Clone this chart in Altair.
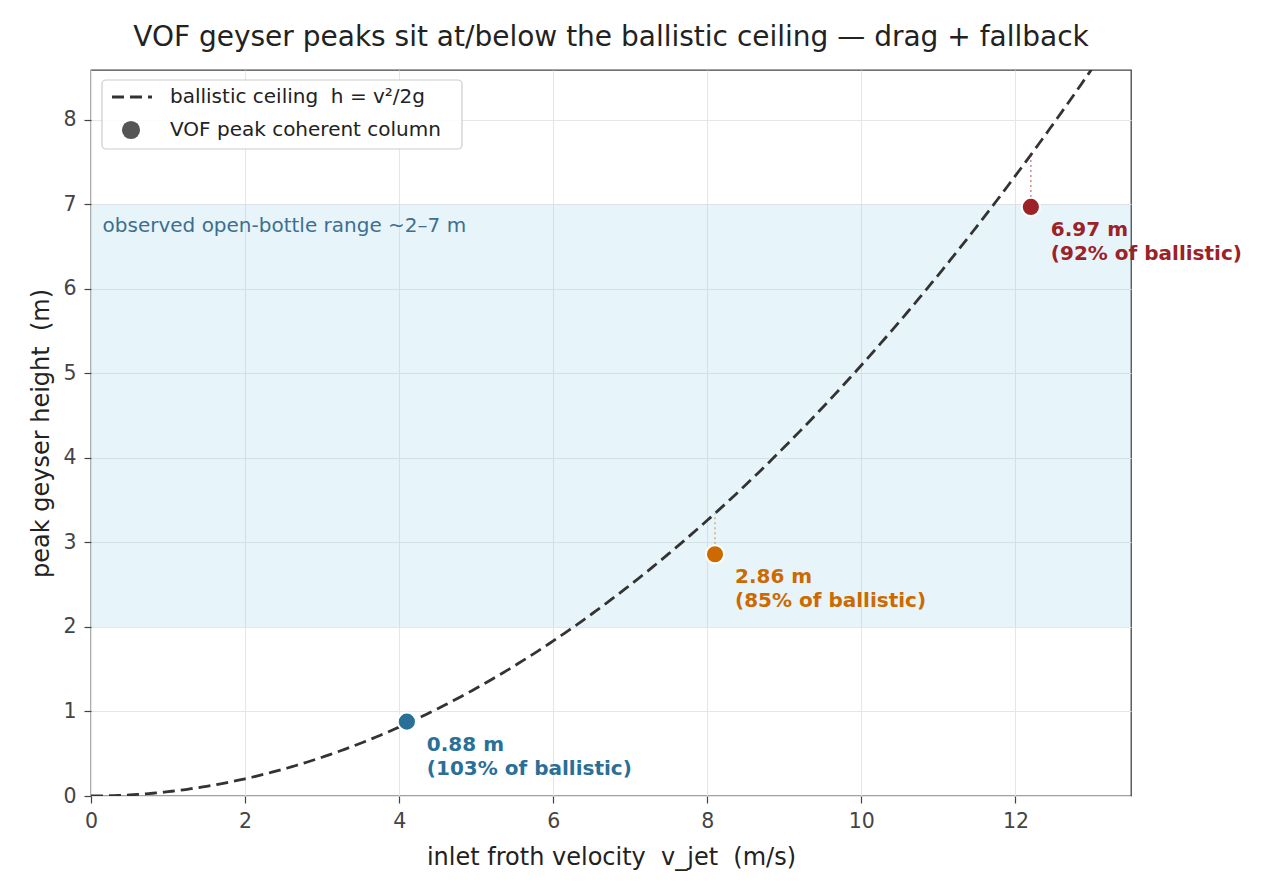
import altair as alt
import numpy as np
import pandas as pd

# ---- data ----
v_jet = [4.1, 8.1, 12.2]
h_peak = [0.88, 2.86, 6.97]
pct = [103, 85, 92]
colors = ["#2a6f97", "#cc6a00", "#9b2226"]
G = 9.81

band_lo, band_hi = 2, 7
band_text = "observed open-bottle range ~2–7 m"
x_ticks = [0, 2, 4, 6, 8, 10, 12]
y_ticks = list(range(0, 9))

NB = "\u00a0"
x_title = f"inlet froth velocity {NB}v_jet {NB}(m/s)"
y_title = f"peak geyser height {NB}(m)"
leg_labels = [f"ballistic ceiling {NB}h = v²/2g", "VOF peak coherent column"]
title_text = "VOF geyser peaks sit at/below the ballistic ceiling — drag + fallback"

xmax, ymax = 13.5, 8.59
W, H = 1040, 726

v_curve = np.linspace(0, 13.5, 271)
curve = pd.DataFrame({"v": v_curve, "h": v_curve ** 2 / (2 * G)})

pts = pd.DataFrame({
    "v": v_jet,
    "h": h_peak,
    "hb": [v ** 2 / (2 * G) for v in v_jet],
    "c": colors,
    "l1": [f"{h:.2f} m" for h in h_peak],
    "l2": [f"({p}% of ballistic)" for p in pct],
})

FONT = "DejaVu Sans"
xs = alt.Scale(domain=[0, xmax], nice=False, zero=False)
ys = alt.Scale(domain=[0, ymax], nice=False, zero=False)

X = alt.X("v:Q", scale=xs, axis=alt.Axis(values=x_ticks, format="d", title=x_title))
Y = alt.Y("h:Q", scale=ys, axis=alt.Axis(values=y_ticks, format="d", title=y_title))

band = alt.Chart(pd.DataFrame({"lo": [band_lo], "hi": [band_hi]})).mark_rect(
    color="#8ecae6", opacity=0.21
).encode(
    x=alt.value(0), x2=alt.value(W),
    y=alt.Y("lo:Q", scale=ys), y2="hi:Q",
)

band_lbl = alt.Chart(pd.DataFrame({"v": [0.15], "h": [6.75], "t": [band_text]})).mark_text(
    align="left", baseline="middle", fontSize=20, font=FONT, color="#3d6f8e"
).encode(x=alt.X("v:Q", scale=xs), y=alt.Y("h:Q", scale=ys), text="t:N")

line = alt.Chart(curve).mark_line(
    color="#333333", strokeWidth=2.8, strokeDash=[12, 6], clip=True
).encode(x=X, y=Y)

conn = alt.Chart(pts).mark_rule(strokeDash=[2, 3], strokeWidth=1.3, opacity=0.6).encode(
    x=alt.X("v:Q", scale=xs), y=alt.Y("h:Q", scale=ys), y2="hb:Q",
    color=alt.Color("c:N", scale=None),
)

dots = alt.Chart(pts).mark_point(
    filled=True, size=330, opacity=1, stroke="white", strokeWidth=2, shape="circle"
).encode(
    x=alt.X("v:Q", scale=xs), y=alt.Y("h:Q", scale=ys),
    fill=alt.Fill("c:N", scale=None),
)

lab1 = alt.Chart(pts).mark_text(
    align="left", baseline="middle", dx=20, dy=23, fontSize=20, fontWeight="bold", font=FONT
).encode(x=alt.X("v:Q", scale=xs), y=alt.Y("h:Q", scale=ys), text="l1:N",
         color=alt.Color("c:N", scale=None))
lab2 = alt.Chart(pts).mark_text(
    align="left", baseline="middle", dx=20, dy=47, fontSize=20, fontWeight="bold", font=FONT
).encode(x=alt.X("v:Q", scale=xs), y=alt.Y("h:Q", scale=ys), text="l2:N",
         color=alt.Color("c:N", scale=None))

# ---- manual legend (pixel placement) ----
leg_box = alt.Chart(pd.DataFrame({"a": [0]})).mark_rect(
    fill="white", fillOpacity=0.85, stroke="#cccccc", strokeWidth=1.2, cornerRadius=4
).encode(x=alt.value(11), x2=alt.value(371), y=alt.value(10), y2=alt.value(79))
leg_line = alt.Chart(pd.DataFrame({"a": [0]})).mark_rule(
    color="#333333", strokeWidth=2.8, strokeDash=[12, 6]
).encode(x=alt.value(21), x2=alt.value(61), y=alt.value(27))
leg_dot = alt.Chart(pd.DataFrame({"a": [0]})).mark_point(
    filled=True, size=330, color="#555555", opacity=1, shape="circle"
).encode(x=alt.value(40), y=alt.value(60))
leg_txt = alt.Chart(pd.DataFrame({"t": leg_labels, "yy": [27, 60]})).mark_text(
    align="left", baseline="middle", fontSize=20, font=FONT, color="#222222"
).encode(x=alt.value(79), y=alt.Y("yy:Q", scale=None), text="t:N")

chart = alt.layer(
    band, band_lbl, line, conn, dots, lab1, lab2, leg_box, leg_line, leg_dot, leg_txt
).properties(
    width=W, height=H,
    title=alt.Title(title_text, fontSize=28, font=FONT, fontWeight="normal", color="#222222",
                    anchor="middle", offset=18),
    autosize=alt.AutoSizeParams(type="none"),
    padding={"left": 83, "top": 62, "right": 141, "bottom": 92},
).configure_view(
    stroke="#444444", strokeWidth=1.3
).configure_axis(
    labelFont=FONT, titleFont=FONT, labelFontSize=20.5, titleFontSize=24,
    labelColor="#444444", titleColor="#222222", titleFontWeight="normal",
    gridColor="#e6e6e6", gridWidth=1.1, domain=False, labelFlush=False,
    tickColor="#444444", tickSize=7, tickWidth=1.2,
).configure_axisX(titlePadding=14, labelPadding=8).configure_axisY(titlePadding=9, labelPadding=8)

chart.save("out.html", embed_options={"renderer": "svg", "actions": False})
